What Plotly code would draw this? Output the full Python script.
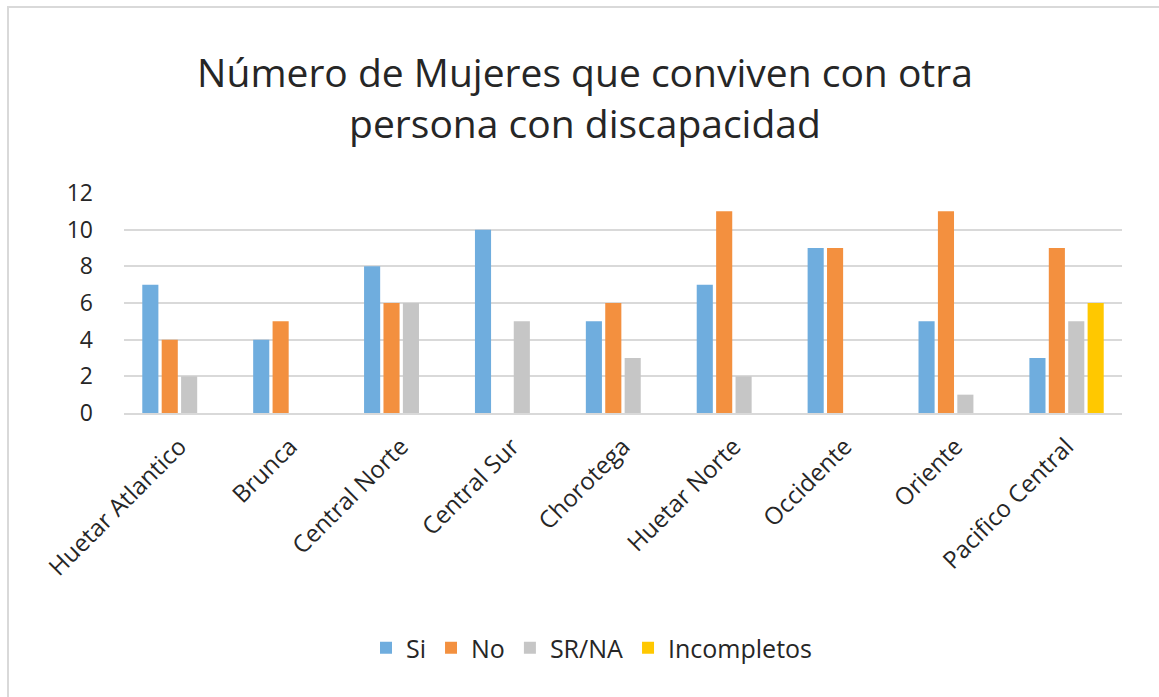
import plotly.graph_objects as go

categories = ["Huetar Atlantico", "Brunca", "Central Norte", "Central Sur", "Chorotega",
              "Huetar Norte", "Occidente", "Oriente", "Pacifico Central"]
si = [7, 4, 8, 10, 5, 7, 9, 5, 3]
no = [4, 5, 6, 0, 6, 11, 9, 11, 9]
sr_na = [2, 0, 6, 5, 3, 2, 0, 1, 5]
incompletos = [0, 0, 0, 0, 0, 0, 0, 0, 6]
y_ticks = [0, 2, 4, 6, 8, 10, 12]

series = [("Si", si, "#6FADDE"), ("No", no, "#F3903F"),
          ("SR/NA", sr_na, "#C6C6C6"), ("Incompletos", incompletos, "#FFC800")]

W, H = 1159, 697
L, R, T, B = 124, 1122, 193, 413
FONT = "Open Sans"
TXT = "#262626"

fig = go.Figure()
for name, vals, col in series:
    fig.add_trace(go.Bar(name=name, x=categories, y=vals, marker_color=col,
                         marker_line_width=0))

def px2x(px):
    return (px - L) / (R - L)

def py2y(py):
    return (B - py) / (B - T)

fig.add_shape(type="rect", xref="paper", yref="paper",
              x0=px2x(8), x1=px2x(1175), y0=py2y(715), y1=py2y(7),
              line=dict(color="#D9D9D9", width=2), fillcolor="rgba(0,0,0,0)", layer="below")

fig.update_layout(
    width=W, height=H,
    margin=dict(l=L, r=W - R, t=T, b=H - B, autoexpand=False),
    paper_bgcolor="white", plot_bgcolor="white",
    font=dict(family=FONT, color=TXT),
    title=dict(text="Número de Mujeres que conviven con otra<br>persona con discapacidad",
               x=585 / W, xref="container", xanchor="center",
               y=1 - 87 / H, yanchor="middle",
               yref="container", font=dict(size=39, color=TXT, family=FONT)),
    barmode="group", bargap=0.3, bargroupgap=0.17,
    xaxis=dict(tickangle=-45, tickfont=dict(size=24, color=TXT), showgrid=False,
               showline=True, linecolor="#D9D9D9", linewidth=2, ticks="", ticklabelstandoff=8),
    yaxis=dict(range=[0, 12], tickvals=y_ticks, tickfont=dict(size=23, color=TXT),
               showgrid=True, gridcolor="#D9D9D9", gridwidth=2, zeroline=False,
               showline=False, ticks="", ticklabelstandoff=30),
    legend=dict(orientation="h", x=px2x(592), xanchor="center", y=py2y(648), yanchor="middle",
                font=dict(size=25, color=TXT), itemwidth=30, traceorder="normal"),
    showlegend=True,
)

fig.write_html("out.html", config={"displayModeBar": False},
               post_script="document.body.style.margin='0';")
